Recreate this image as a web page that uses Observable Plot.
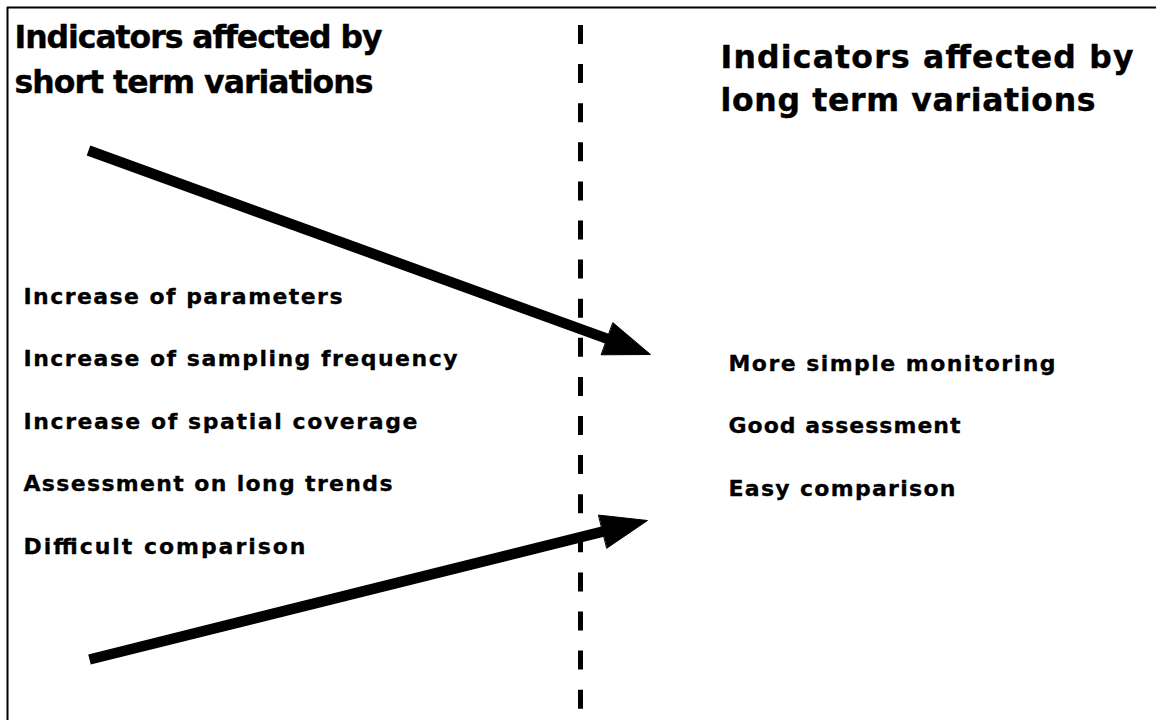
<!DOCTYPE html>
<html>
<head>
<meta charset="utf-8">
<script src="https://cdn.jsdelivr.net/npm/d3@7"></script>
<script src="https://cdn.jsdelivr.net/npm/@observablehq/plot@0.6"></script>
<style>
  html, body { margin: 0; padding: 0; background: #fff; }
  #chart svg { display: block; }
</style>
</head>
<body>
<div id="chart"></div>
<script>
// ---- content ----
const leftTitle = ["Indicators affected by", "short term variations"];
const rightTitle = ["Indicators affected by", "long term variations"];
const leftItems = [
  "Increase of parameters",
  "Increase of sampling frequency",
  "Increase of spatial coverage",
  "Assessment on long trends",
  "Difficult comparison"
];
const rightItems = [
  "More simple monitoring",
  "Good assessment",
  "Easy comparison"
];
// arrows: start point and tip (diagram coordinates)
const arrowStarts = [[88, 150], [89, 659]];
const arrowTips = [[650, 354], [647, 520]];
// divider position
const dividerX = [580];

// ---- layout ----
const W = 1156, H = 720;
const titleSize = 31.5, itemSize = 22;
const layout = {
  leftTitle: {x: 14, y: [47, 92], w: [368, 359]},
  rightTitle: {x: 720, y: [67, 110], w: [413, 375]},
  leftItems: {x: 23, y0: 303, dy: 62.5, w: [319, 434, 394, 369, 282]},
  rightItems: {x: 728, y0: 370, dy: 62.5, w: [327, 232, 227]}
};

const titles = [], items = [];
leftTitle.forEach((t, i) => titles.push({t, x: layout.leftTitle.x, y: layout.leftTitle.y[i], w: layout.leftTitle.w[i]}));
rightTitle.forEach((t, i) => titles.push({t, x: layout.rightTitle.x, y: layout.rightTitle.y[i], w: layout.rightTitle.w[i]}));
leftItems.forEach((t, i) => items.push({t, x: layout.leftItems.x, y: layout.leftItems.y0 + i * layout.leftItems.dy, w: layout.leftItems.w[i]}));
rightItems.forEach((t, i) => items.push({t, x: layout.rightItems.x, y: layout.rightItems.y0 + i * layout.rightItems.dy, w: layout.rightItems.w[i]}));
const texts = titles.concat(items);

// arrow geometry
const headLen = 46, headHalf = 17;
const shafts = [], heads = [];
arrowStarts.forEach((s, k) => {
  const tip = arrowTips[k];
  const dx = tip[0] - s[0], dy = tip[1] - s[1];
  const L = Math.hypot(dx, dy), ux = dx / L, uy = dy / L;
  const bx = tip[0] - ux * headLen, by = tip[1] - uy * headLen;
  shafts.push({id: k, x: s[0], y: s[1]}, {id: k, x: bx + ux * 4, y: by + uy * 4});
  heads.push(
    {id: k, x: bx - uy * headHalf, y: by + ux * headHalf},
    {id: k, x: tip[0], y: tip[1]},
    {id: k, x: bx + uy * headHalf, y: by - ux * headHalf}
  );
});

const font = "'DejaVu Sans', sans-serif";

const svg = Plot.plot({
  width: W,
  height: H,
  margin: 0,
  x: {domain: [0, W], axis: null},
  y: {domain: [H, 0], axis: null},
  style: {background: "#fff"},
  marks: [
    Plot.ruleY([7], {x1: 7, x2: W, stroke: "#000", strokeWidth: 2}),
    Plot.ruleX([7], {y1: 7, y2: H, stroke: "#000", strokeWidth: 2}),
    Plot.ruleX(dividerX, {y1: 25, y2: H, stroke: "#000", strokeWidth: 5, strokeDasharray: "19,20.1"}),
    Plot.line(shafts, {x: "x", y: "y", z: "id", stroke: "#000", strokeWidth: 10.5, strokeLinecap: "butt"}),
    Plot.line(heads, {x: "x", y: "y", z: "id", fill: "#000", stroke: "#000", strokeWidth: 1, curve: "linear-closed"}),
    Plot.text(titles, {x: "x", y: "y", text: "t", textAnchor: "start", lineAnchor: "bottom", fontSize: titleSize, fontWeight: "bold", fontFamily: font, fill: "#000", stroke: "#000", strokeWidth: 0.4}),
    Plot.text(items, {x: "x", y: "y", text: "t", textAnchor: "start", lineAnchor: "bottom", fontSize: itemSize, fontWeight: "bold", fontFamily: font, fill: "#000", stroke: "#000", strokeWidth: 0.3})
  ]
});

// stretch each label to the measured width of the original lettering
d3.select(svg).selectAll("text").each(function () {
  const el = d3.select(this);
  const txt = el.text();
  const match = texts.find(d => d.t === txt && !d.used);
  if (match) {
    match.used = true;
    el.attr("textLength", match.w).attr("lengthAdjust", "spacing");
  }
});

document.getElementById("chart").appendChild(svg);
</script>
</body>
</html>
